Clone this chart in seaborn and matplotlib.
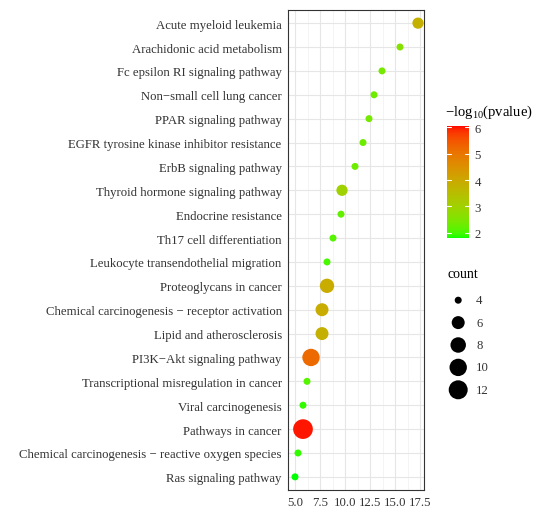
"""
KEGG enrichment bubble plot: rich factor vs pathway, coloured by -log10(pvalue),
sized by gene count.
"""

import numpy as np
import pandas as pd
import matplotlib
matplotlib.use("Agg")
import matplotlib.pyplot as plt
from matplotlib.colors import ListedColormap, Normalize
from matplotlib.colorbar import ColorbarBase
import seaborn as sns

# --- Data (top to bottom as shown) ---
terms = [
    "Acute myeloid leukemia",
    "Arachidonic acid metabolism",
    "Fc epsilon RI signaling pathway",
    "Non\u2212small cell lung cancer",
    "PPAR signaling pathway",
    "EGFR tyrosine kinase inhibitor resistance",
    "ErbB signaling pathway",
    "Thyroid hormone signaling pathway",
    "Endocrine resistance",
    "Th17 cell differentiation",
    "Leukocyte transendothelial migration",
    "Proteoglycans in cancer",
    "Chemical carcinogenesis \u2212 receptor activation",
    "Lipid and atherosclerosis",
    "PI3K\u2212Akt signaling pathway",
    "Transcriptional misregulation in cancer",
    "Viral carcinogenesis",
    "Pathways in cancer",
    "Chemical carcinogenesis \u2212 reactive oxygen species",
    "Ras signaling pathway",
]
rich = [17.3, 15.5, 13.7, 12.9, 12.4, 11.8, 11.0, 9.7, 9.6, 8.8,
        8.2, 8.2, 7.7, 7.7, 6.6, 6.2, 5.8, 5.8, 5.3, 5.0]
logp = [3.8, 2.6, 2.4, 2.3, 2.4, 2.3, 2.3, 3.0, 2.2, 2.1,
        2.0, 3.9, 3.9, 3.8, 5.2, 2.1, 1.9, 6.0, 1.9, 1.8]
count = [5, 4, 4, 4, 4, 4, 4, 5, 4, 4,
         4, 7, 6, 6, 10, 4, 4, 13, 4, 4]

legend_counts = [4, 6, 8, 10, 12]
cbar_ticks = [2, 3, 4, 5, 6]

df = pd.DataFrame({"term": terms, "rich": rich, "logp": logp, "count": count})

SERIF = ["Liberation Serif", "DejaVu Serif"]
TXT = "#333333"


def lab_to_rgb(L, a, b):
    fy = (L + 16) / 116
    fx = fy + a / 500
    fz = fy - b / 200
    d = 6 / 29

    def finv(t):
        return np.where(t > d, t ** 3, 3 * d ** 2 * (t - 4 / 29))

    X, Y, Z = 0.95047 * finv(fx), finv(fy), 1.08883 * finv(fz)
    r = 3.2406 * X - 1.5372 * Y - 0.4986 * Z
    g = -0.9689 * X + 1.8758 * Y + 0.0415 * Z
    bl = 0.0557 * X - 0.2040 * Y + 1.0570 * Z
    rgb = np.stack([r, g, bl], axis=-1)
    rgb = np.where(rgb <= 0.0031308, 12.92 * rgb, 1.055 * np.abs(rgb) ** (1 / 2.4) - 0.055)
    return np.clip(rgb, 0, 1)


# green -> red, interpolated in Lab like ggplot's scale_colour_gradient
t = np.linspace(0, 1, 256)
green = np.array([87.73, -86.18, 83.18])
red = np.array([53.24, 80.09, 67.20])
lab = green[None, :] * (1 - t[:, None]) + red[None, :] * t[:, None]
cmap = ListedColormap(lab_to_rgb(lab[:, 0], lab[:, 1], lab[:, 2]))
norm = Normalize(vmin=1.8, vmax=6.05)

# size mapping: diameter grows with sqrt of the rescaled count (area scale)
C_MIN, C_MAX = 4, 13
D_MIN, D_MAX = 7.0, 19.7  # pixels


def point_area(c):
    frac = np.sqrt((np.asarray(c, float) - C_MIN) / (C_MAX - C_MIN))
    d_pt = (D_MIN + (D_MAX - D_MIN) * frac) * 0.72
    return d_pt ** 2


size_map = {c: float(point_area(c)) for c in sorted(set(count))}

sns.set_style("white")
plt.rcParams["font.family"] = SERIF
plt.rcParams["mathtext.fontset"] = "custom"
plt.rcParams["mathtext.rm"] = "Liberation Serif"
plt.rcParams["mathtext.it"] = "Liberation Serif:italic"

fig = plt.figure(figsize=(5.44, 5.10), dpi=100)
ax = fig.add_axes([288 / 544, 19 / 510, 136 / 544, 480 / 510])

sns.scatterplot(data=df, x="rich", y="term", hue="logp", size="count",
                palette=cmap, hue_norm=norm, sizes=size_map,
                linewidth=0, legend=False, ax=ax, zorder=3)

ax.set_xlim(4.3, 17.9)
ax.set_ylim(len(terms) - 0.45, -0.55)
ax.set_xticks([5, 7.5, 10, 12.5, 15, 17.5])
ax.set_xticklabels(["5.0", "7.5", "10.0", "12.5", "15.0", "17.5"])
ax.set_xticks([6.25, 8.75, 11.25, 13.75, 16.25], minor=True)
ax.grid(which="major", color="#E6E6E6", linewidth=0.8, zorder=0)
ax.grid(which="minor", axis="x", color="#F0F0F0", linewidth=0.5, zorder=0)
ax.set_axisbelow(True)
ax.set_xlabel("")
ax.set_ylabel("")
for s in ax.spines.values():
    s.set_color("#333333")
    s.set_linewidth(0.8)
ax.tick_params(axis="both", which="major", length=3, width=0.7, color="#333333",
               labelsize=9.2, labelcolor=TXT, pad=1.5)
ax.tick_params(axis="x", which="minor", length=0)

# --- colour bar ---
cax = fig.add_axes([447 / 544, (510 - 239) / 510, 22 / 544, 112 / 510])
cb = ColorbarBase(cax, cmap=cmap, norm=norm, ticks=cbar_ticks)
cb.outline.set_visible(False)
cax.tick_params(length=0, labelsize=9.2, labelcolor=TXT, pad=4)
for v in cbar_ticks:
    cax.axhline(v, xmin=0, xmax=0.18, color="white", linewidth=0.8)
    cax.axhline(v, xmin=0.82, xmax=1, color="white", linewidth=0.8)
fig.text(445 / 544, 1 - 112 / 510, "\u2212log$_{10}$(pvalue)", fontsize=10.5,
         color="black", va="center", ha="left")

# --- count legend ---
lax = fig.add_axes([445 / 544, (510 - 402) / 510, 60 / 544, 112 / 510])
lax.set_xlim(0, 1)
lax.set_ylim(len(legend_counts) - 0.5, -0.5)
lax.axis("off")
lax.scatter(np.full(len(legend_counts), 0.22), range(len(legend_counts)),
            s=point_area(legend_counts), color="black", linewidth=0)
for i, c in enumerate(legend_counts):
    lax.text(0.52, i, str(c), fontsize=9.2, color=TXT, va="center", ha="left")
fig.text(447 / 544, 1 - 275 / 510, "count", fontsize=10, color="black",
         va="center", ha="left")

plt.savefig("out.png", dpi=100)
plt.close()
